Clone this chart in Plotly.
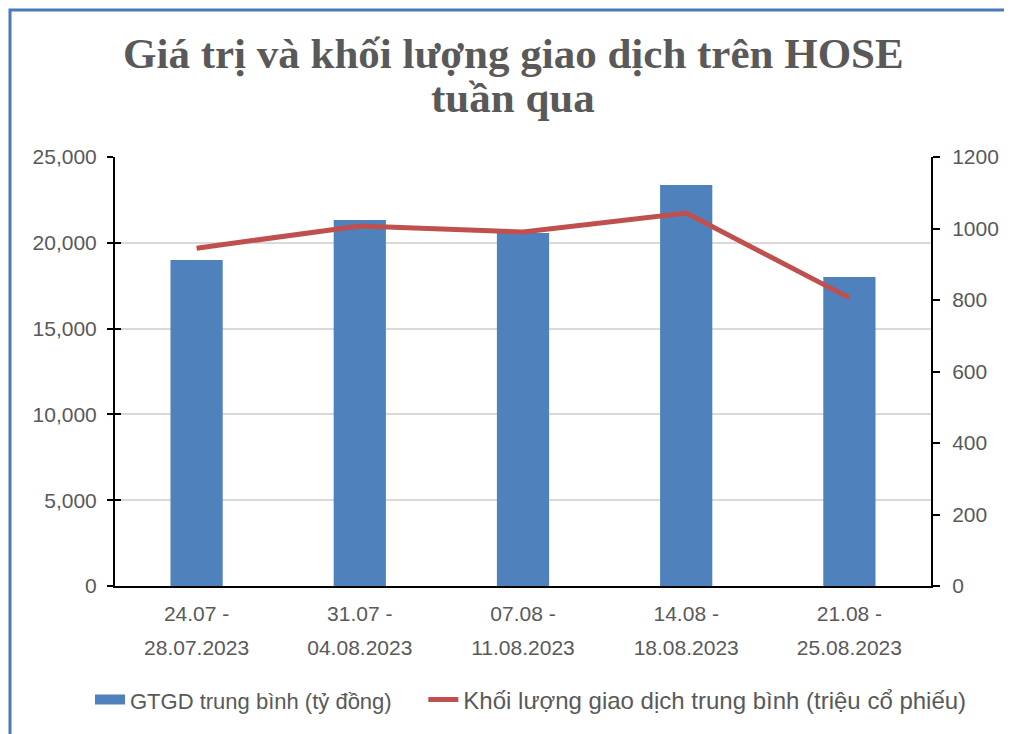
import plotly.graph_objects as go

categories = ["24.07 -<br>28.07.2023", "31.07 -<br>04.08.2023", "07.08 -<br>11.08.2023",
              "14.08 -<br>18.08.2023", "21.08 -<br>25.08.2023"]
gtgd_values = [19000, 21330, 20570, 23370, 18010]
klgd_values = [945, 1007, 990, 1043, 806]
left_ticks = [0, 5000, 10000, 15000, 20000, 25000]
right_ticks = [0, 200, 400, 600, 800, 1000, 1200]
title_lines = ["Giá trị và khối lượng giao dịch trên HOSE", "tuần qua"]
bar_name = "GTGD trung bình (tỷ đồng)"
line_name = "Khối lượng giao dịch trung bình (triệu cổ phiếu)"

font_color = "#595959"
bar_color = "#4f81bd"
line_color = "#c0504d"
sans = "Liberation Sans, Arial, sans-serif"
tick_font = dict(family=sans, size=21, color=font_color)

W, H = 1004, 726
ML, MR, MT, MB = 107, 81, 149, 148
PW, PH = W - ML - MR, H - MT - MB

# x tick text: glyphs at 21px, line spacing from a larger base font
x_ticktext = ["<br>".join(f"<span style='font-size:21px'>{part}</span>" for part in c.split("<br>"))
              for c in categories]

fig = go.Figure()
fig.add_trace(go.Bar(x=categories, y=gtgd_values, name=bar_name, showlegend=False,
                     marker=dict(color=bar_color, line=dict(width=0)), yaxis="y"))
# legend proxy for the bars (wide rectangle symbol like the original)
fig.add_trace(go.Scatter(x=[None], y=[None], mode="lines",
                         name=f"<span style='font-size:22px'>{bar_name}</span>" + "\u00a0" * 4,
                         line=dict(color=bar_color, width=13), yaxis="y", hoverinfo="skip"))
fig.add_trace(go.Scatter(x=categories, y=klgd_values, name=line_name,
                         mode="lines", line=dict(color=line_color, width=5), yaxis="y2"))
# helper trace for the inner half of left-axis tick marks
fig.add_trace(go.Scatter(x=categories, y=gtgd_values, yaxis="y3", mode="markers",
                         marker=dict(opacity=0), showlegend=False, hoverinfo="skip"))

def py(screen_y):
    # convert screen pixel (page offset of 8px) to paper y
    return 1 + (MT - (screen_y - 8)) / PH

fig.update_layout(
    width=W, height=H,
    margin=dict(l=ML, r=MR, t=MT, b=MB, autoexpand=False),
    paper_bgcolor="white", plot_bgcolor="white",
    bargap=0.68,
    showlegend=True,
    legend=dict(orientation="h", x=(90 - 8 - ML) / PW, xanchor="left", y=py(700), yanchor="middle",
                font=dict(family=sans, size=24, color=font_color),
                traceorder="normal", itemclick=False),
    xaxis=dict(showline=True, linecolor="black", linewidth=2, ticks="",
               tickmode="array", tickvals=categories, ticktext=x_ticktext,
               tickfont=dict(family=sans, size=26, color=font_color),
               showgrid=False, mirror=False, ticklabelstandoff=2),
    yaxis=dict(range=[0, 25000], tickvals=left_ticks, tickformat=",d", showline=True,
               linecolor="black", linewidth=2, ticks="outside", ticklen=6, tickwidth=2,
               tickcolor="black", showgrid=True, gridcolor="#d9d9d9", gridwidth=1.5,
               tickfont=tick_font, zeroline=False, ticklabelstandoff=6),
    yaxis2=dict(range=[0, 1200], tickvals=right_ticks, overlaying="y", side="right",
                showline=True, linecolor="black", linewidth=2, ticks="outside", ticklen=7,
                tickwidth=2, tickcolor="black", showgrid=False, tickfont=tick_font,
                zeroline=False, ticklabelstandoff=8),
    yaxis3=dict(range=[0, 25000], tickvals=left_ticks, overlaying="y", side="left", anchor="x",
                showline=False, ticks="inside", ticklen=6, tickwidth=2, tickcolor="black",
                showticklabels=False, showgrid=False, zeroline=False),
)

for text, sy in zip(title_lines, [53, 98]):
    fig.add_annotation(text=f"<b>{text}</b>", xref="paper", yref="paper", x=0.5 - 0.012, y=py(sy),
                       xanchor="center", yanchor="middle", showarrow=False,
                       font=dict(family="Liberation Serif, Times New Roman, serif", size=43, color=font_color))

fig.add_shape(type="rect", xref="paper", yref="paper",
              x0=(2 - ML) / PW, y0=-0.6, x1=1.3, y1=1 + (MT - 2) / PH,
              line=dict(color="#4a7ab5", width=3), fillcolor="rgba(0,0,0,0)", layer="below")

fig.write_html("out.html")
